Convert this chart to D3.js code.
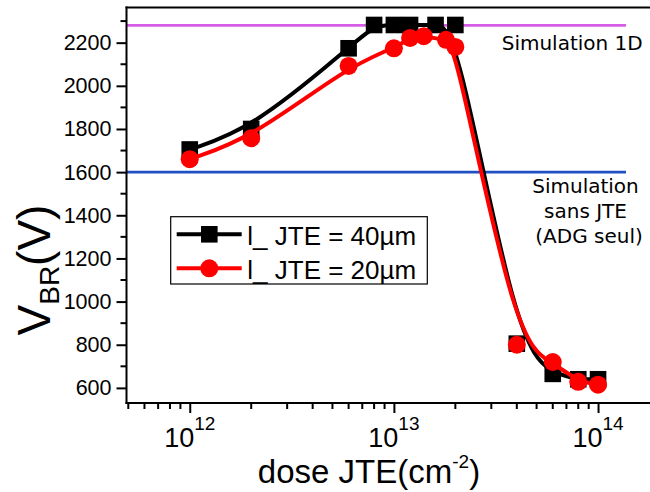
<!DOCTYPE html>
<html><head><meta charset="utf-8">
<script src="https://cdn.jsdelivr.net/npm/d3@7"></script>
<style>html,body{margin:0;padding:0;background:#fff;}svg{display:block;}</style>
</head><body>
<svg id="c" width="650" height="492"></svg>
<script>
// ---- data ----
const doseBlack = [1e12, 2e12, 6e12, 8e12, 1e13, 1.2e13, 1.6e13, 2e13, 4e13, 6e13, 8e13, 1e14];
const vbrBlack  = [1705, 1800, 2174, 2282, 2282, 2282, 2282, 2282, 805, 665, 640, 640];
const doseRed   = [1e12, 2e12, 6e12, 1e13, 1.2e13, 1.4e13, 1.8e13, 2e13, 4e13, 6e13, 8e13, 1e14];
const vbrRed    = [1660, 1757, 2092, 2174, 2222, 2230, 2213, 2180, 800, 720, 628, 615];
const seriesNames = ["l_ JTE = 40µm", "l_ JTE = 20µm"];
const refValues = [2280, 1600];
const yTicks = [600, 800, 1000, 1200, 1400, 1600, 1800, 2000, 2200];
const xTickExps = [12, 13, 14];

const svg = d3.select("#c");
const W = 650;
const x = d3.scaleLog().domain([4.9e11, 2e14]).range([126.5, 659.5]);
const y = d3.scaleLinear().domain([530, 2363]).range([403, 7.5]);
const sans = "'Liberation Sans', Arial, sans-serif";
const dv = "'DejaVu Sans', sans-serif";

// reference lines
const refColors = ["#d65ce6", "#1f50c2"];
refValues.forEach((v, i) => {
  svg.append("line").attr("x1", x.range()[0]).attr("x2", 626)
    .attr("y1", y(v)).attr("y2", y(v))
    .attr("stroke", refColors[i]).attr("stroke-width", 2.6);
});

// axes
const gy = svg.append("g").attr("transform", `translate(${x.range()[0]},0)`);
gy.call(d3.axisLeft(y).tickValues(yTicks).tickFormat(d3.format("d")).tickSize(10).tickPadding(5).tickSizeOuter(0))
  .call(g => g.select(".domain").remove());
gy.selectAll(".tick line").attr("stroke-width", 2);
gy.selectAll(".tick text").attr("font-family", sans).attr("font-size", 21.5).attr("fill", "#000");
const yMinor = d3.range(700, 2400, 200);
gy.selectAll(".minor").data(yMinor).enter().append("line")
  .attr("x1", 0).attr("x2", -6).attr("y1", d => y(d)).attr("y2", d => y(d))
  .attr("stroke", "#000").attr("stroke-width", 2);

const gx = svg.append("g").attr("transform", `translate(0,${y.range()[0]})`);
const xMajors = xTickExps.map(e => Math.pow(10, e));
gx.call(d3.axisBottom(x).tickValues(xMajors).tickSize(10).tickFormat(""))
  .call(g => g.select(".domain").remove());
gx.selectAll(".tick line").attr("stroke-width", 2);
const xMinor = x.ticks().filter(v => !xMajors.some(m => Math.abs(m - v) / m < 1e-6));
gx.selectAll(".minor").data(xMinor).enter().append("line")
  .attr("x1", d => x(d)).attr("x2", d => x(d)).attr("y1", 0).attr("y2", 6)
  .attr("stroke", "#000").attr("stroke-width", 2);
xTickExps.forEach(e => {
  const t = svg.append("text").attr("x", x(Math.pow(10, e))).attr("y", 447)
    .attr("text-anchor", "middle").attr("font-family", sans).attr("fill", "#000");
  t.append("tspan").attr("font-size", 27).text("10");
  t.append("tspan").attr("font-size", 19).attr("dy", -17).text(String(e));
});

// frame lines
svg.append("line").attr("x1", x.range()[0]).attr("x2", x.range()[0]).attr("y1", 6.5).attr("y2", 404)
  .attr("stroke", "#000").attr("stroke-width", 2);
svg.append("line").attr("x1", 125.5).attr("x2", W + 5).attr("y1", y.range()[0]).attr("y2", y.range()[0])
  .attr("stroke", "#000").attr("stroke-width", 2);
svg.append("line").attr("x1", 125.5).attr("x2", W + 5).attr("y1", 7.5).attr("y2", 7.5)
  .attr("stroke", "#000").attr("stroke-width", 2);

// series
const line = d3.line().x(d => x(d[0])).y(d => y(d[1])).curve(d3.curveBasis);
const black = doseBlack.map((d, i) => [d, vbrBlack[i]]);
const red = doseRed.map((d, i) => [d, vbrRed[i]]);
svg.append("path").attr("d", line(black)).attr("fill", "none").attr("stroke", "#000").attr("stroke-width", 4);
svg.selectAll(".sq").data(black).enter().append("rect")
  .attr("x", d => x(d[0]) - 8.3).attr("y", d => y(d[1]) - 8.3).attr("width", 16.6).attr("height", 16.6)
  .attr("fill", "#000");
svg.append("path").attr("d", line(red)).attr("fill", "none").attr("stroke", "#ff0000").attr("stroke-width", 4);
svg.selectAll(".ci").data(red).enter().append("circle")
  .attr("cx", d => x(d[0])).attr("cy", d => y(d[1])).attr("r", 9).attr("fill", "#ff0000");

// legend
const lg = svg.append("g");
lg.append("rect").attr("x", 170.7).attr("y", 216.7).attr("width", 256.6).attr("height", 67.3)
  .attr("fill", "#fff").attr("stroke", "#000").attr("stroke-width", 1.2);
[[234.3, "#000", "sq"], [268.3, "#ff0000", "ci"]].forEach((r, i) => {
  lg.append("line").attr("x1", 176.7).attr("x2", 241.7).attr("y1", r[0]).attr("y2", r[0])
    .attr("stroke", r[1]).attr("stroke-width", 4);
  if (r[2] === "sq") lg.append("rect").attr("x", 209.3 - 8.3).attr("y", r[0] - 8.3).attr("width", 16.6).attr("height", 16.6).attr("fill", r[1]);
  else lg.append("circle").attr("cx", 209.3).attr("cy", r[0]).attr("r", 9).attr("fill", r[1]);
  lg.append("text").attr("x", 247.3).attr("y", r[0] + 10.7).attr("font-family", sans).attr("font-size", 26)
    .attr("fill", "#000").text(seriesNames[i]);
});

// annotations
svg.append("text").attr("x", 501.7).attr("y", 50).attr("font-family", dv).attr("font-size", 20).attr("fill", "#000").text("Simulation 1D");
[["Simulation", 585.5, 193.3], ["sans JTE", 585.5, 218.3], ["(ADG seul)", 589, 243]].forEach(a => {
  svg.append("text").attr("x", a[1]).attr("y", a[2]).attr("text-anchor", "middle").attr("font-family", dv)
    .attr("font-size", 20).attr("fill", "#000").text(a[0]);
});

// axis titles
const xt = svg.append("text").attr("x", 369).attr("y", 483).attr("text-anchor", "middle")
  .attr("font-family", sans).attr("fill", "#000");
xt.append("tspan").attr("font-size", 33).text("dose JTE(cm");
xt.append("tspan").attr("font-size", 19).attr("dy", -15).text("-2");
xt.append("tspan").attr("font-size", 33).attr("dy", 15).text(")");

const yt = svg.append("text").attr("transform", "translate(50,270) rotate(-90)").attr("text-anchor", "middle")
  .attr("font-family", sans).attr("fill", "#000");
yt.append("tspan").attr("font-size", 46).text("V");
yt.append("tspan").attr("font-size", 28).attr("dy", 9).text("BR");
yt.append("tspan").attr("font-size", 46).attr("dy", -9).text("(V)");
</script>
</body></html>
